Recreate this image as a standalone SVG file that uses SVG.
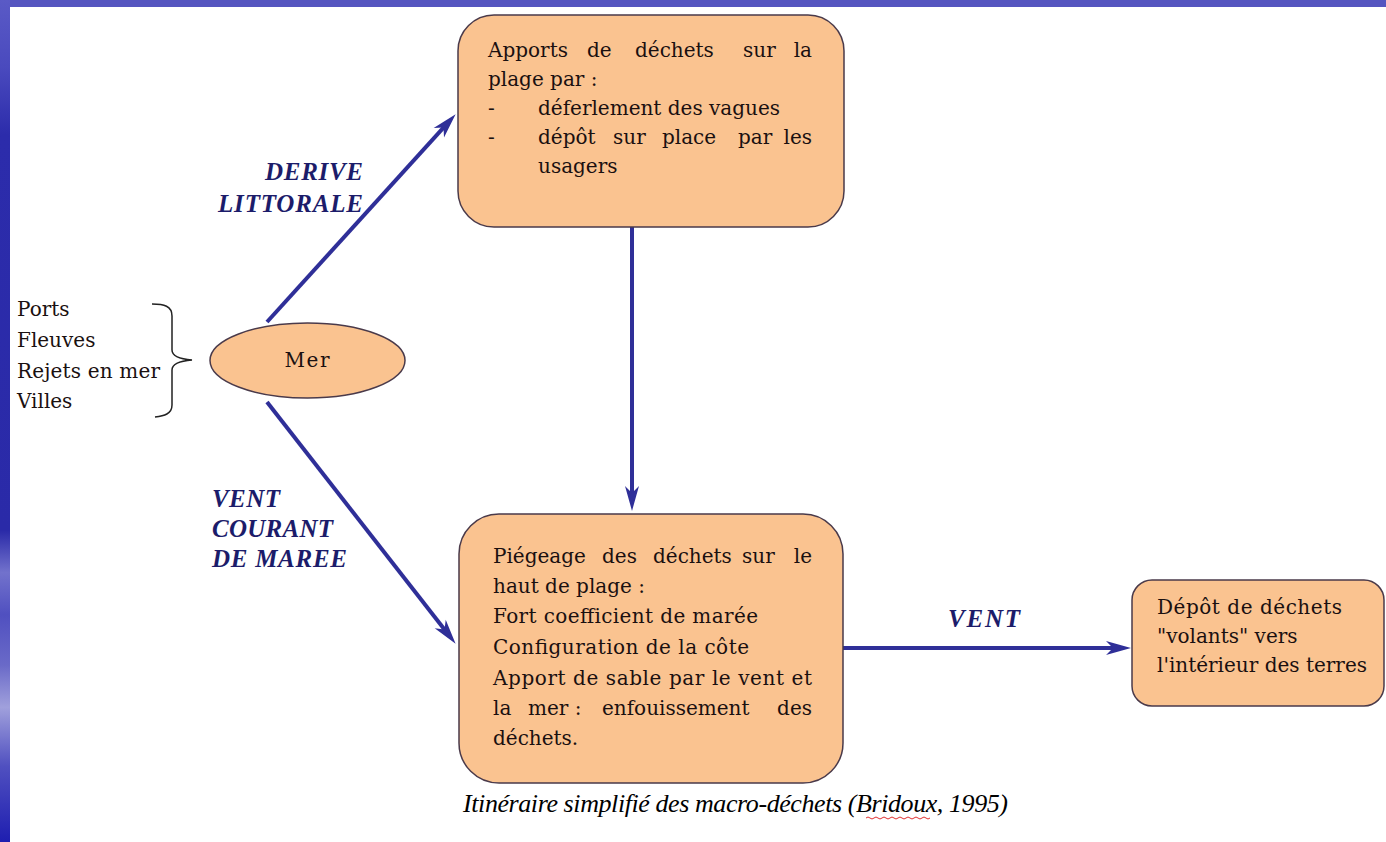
<svg xmlns="http://www.w3.org/2000/svg" width="1386" height="842" viewBox="0 0 1386 842">
<defs>
<linearGradient id="side" x1="0" y1="0" x2="0" y2="1">
<stop offset="0" stop-color="#5a5ac6"/>
<stop offset="0.08" stop-color="#4a4abe"/>
<stop offset="0.16" stop-color="#2c2cab"/>
<stop offset="0.63" stop-color="#2a2aa8"/>
<stop offset="0.68" stop-color="#7272cc"/>
<stop offset="0.73" stop-color="#5050c0"/>
<stop offset="0.79" stop-color="#6a6ac8"/>
<stop offset="0.84" stop-color="#a0a0dc"/>
<stop offset="0.91" stop-color="#5050c0"/>
<stop offset="1" stop-color="#1e1eb0"/>
</linearGradient>
<marker id="ah" viewBox="-14 -9 28 18" markerWidth="28" markerHeight="18" refX="0" refY="0" orient="auto" markerUnits="userSpaceOnUse">
<path d="M13,0 L-12,-7 L-5,0 L-12,7 Z" fill="#2f2f98"/>
</marker>
</defs>
<style>
.box{fill:#fac390;stroke:#4a3a4a;stroke-width:1.5}
.t{font-family:"DejaVu Serif","Liberation Serif",serif;font-size:20px;fill:#1a1010}
.lbl{font-family:"Liberation Serif","DejaVu Serif",serif;font-size:25px;font-weight:bold;font-style:italic;fill:#1c1c6a}
.cap{font-family:"Liberation Serif","DejaVu Serif",serif;font-size:26px;font-style:italic;fill:#000}
.conn{stroke:#2f2f98;stroke-width:4;fill:none;marker-end:url(#ah)}
</style>
<rect x="0" y="0" width="1386" height="842" fill="#ffffff"/>
<rect x="0" y="0" width="1386" height="7" fill="#5555c0"/>
<rect x="0" y="0" width="10" height="842" fill="url(#side)"/>

<g id="connectors">
<line class="conn" x1="267" y1="322" x2="446.9" y2="123.9"/>
<line class="conn" x1="267" y1="402" x2="447.6" y2="633.5"/>
<line class="conn" x1="632" y1="227" x2="632" y2="498"/>
<line class="conn" x1="843" y1="648" x2="1118" y2="648"/>
<text class="lbl" x="363" y="180" text-anchor="end" textLength="98">DERIVE</text>
<text class="lbl" x="363" y="212" text-anchor="end" textLength="145">LITTORALE</text>
<text class="lbl" x="212" y="507" textLength="68">VENT</text>
<text class="lbl" x="212" y="537" textLength="121">COURANT</text>
<text class="lbl" x="212" y="567" textLength="135">DE MAREE</text>
<text class="lbl" x="948" y="627" textLength="72">VENT</text>
</g>

<g id="sources">
<text class="t" x="17" y="316">Ports</text>
<text class="t" x="17" y="347">Fleuves</text>
<text class="t" x="17" y="378" textLength="143">Rejets en mer</text>
<text class="t" x="17" y="408">Villes</text>
<path d="M152,304 C164,304 172,306 172,316 L172,350 C172,356 180,359 192,360 C180,361 172,364 172,370 L172,405 C172,414 164,416 155,417" fill="none" stroke="#222" stroke-width="1.5"/>
</g>

<g id="mer">
<ellipse class="box" cx="307.5" cy="360.5" rx="97.5" ry="37.5"/>
<text class="t" x="307" y="367" text-anchor="middle" textLength="45">Mer</text>
</g>

<g id="apports">
<rect class="box" x="458" y="15" width="386" height="212" rx="36" ry="36"/>
<text class="t"><tspan x="488" y="57">Apports</tspan><tspan x="587" y="57">de</tspan><tspan x="635" y="57">déchets</tspan><tspan x="743" y="57">sur</tspan><tspan x="812" y="57" text-anchor="end">la</tspan></text>
<text class="t" x="488" y="86">plage par :</text>
<text class="t"><tspan x="488" y="115">-</tspan><tspan x="538" y="115">déferlement des vagues</tspan></text>
<text class="t"><tspan x="488" y="144">-</tspan><tspan x="538" y="144">dépôt</tspan><tspan x="613" y="144">sur</tspan><tspan x="662" y="144">place</tspan><tspan x="738" y="144">par</tspan><tspan x="812" y="144" text-anchor="end">les</tspan></text>
<text class="t" x="538" y="173">usagers</text>
</g>

<g id="piegeage">
<rect class="box" x="459" y="514" width="384" height="269" rx="40" ry="40"/>
<text class="t"><tspan x="493" y="563">Piégeage</tspan><tspan x="602" y="563">des</tspan><tspan x="653" y="563">déchets</tspan><tspan x="742" y="563">sur</tspan><tspan x="812" y="563" text-anchor="end">le</tspan></text>
<text class="t" x="493" y="593">haut de plage :</text>
<text class="t" x="493" y="623" textLength="265">Fort coefficient de marée</text>
<text class="t" x="493" y="654" textLength="256">Configuration de la côte</text>
<text class="t" x="493" y="685" textLength="319">Apport de sable par le vent et</text>
<text class="t"><tspan x="493" y="715">la</tspan><tspan x="528" y="715">mer :</tspan><tspan x="602" y="715">enfouissement</tspan><tspan x="812" y="715" text-anchor="end">des</tspan></text>
<text class="t" x="493" y="745">déchets.</text>
</g>

<g id="depot">
<rect class="box" x="1132" y="580" width="252" height="126" rx="20" ry="20"/>
<text class="t" x="1157" y="614" textLength="185">Dépôt de déchets</text>
<text class="t" x="1157" y="643">"volants" vers</text>
<text class="t" x="1157" y="672" textLength="210">l'intérieur des terres</text>
</g>

<g id="caption">
<text class="cap" x="463" y="812" textLength="545">Itinéraire simplifié des macro-déchets (Bridoux, 1995)</text>
<path d="M866,818 q2,-2 4,0 t4,0 t4,0 t4,0 t4,0 t4,0 t4,0 t4,0 t4,0 t4,0 t4,0 t4,0 t4,0 t4,0 t4,0 t4,0" fill="none" stroke="#e03030" stroke-width="1"/>
</g>
</svg>
